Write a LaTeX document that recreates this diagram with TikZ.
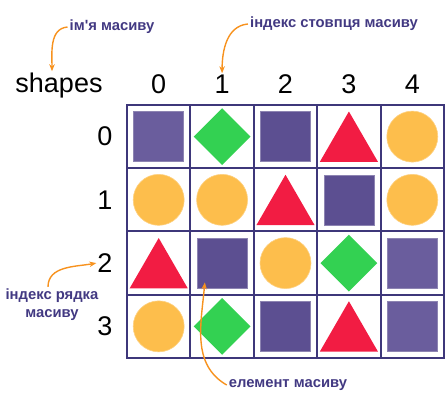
\documentclass[tikz,border=0pt]{standalone}
\usepackage{fontspec}
\setmainfont{Liberation Sans}
\newfontfamily\lblfont{Liberation Sans}[Ligatures=TeXOff]
\usetikzlibrary{shapes.geometric,arrows.meta}
\definecolor{gridpurple}{RGB}{62,55,122}
\definecolor{txtpurple}{RGB}{66,57,130}
\definecolor{sqdark}{RGB}{92,79,145}
\definecolor{sqlight}{RGB}{106,93,157}
\definecolor{dgreen}{RGB}{51,209,82}
\definecolor{tred}{RGB}{242,28,67}
\definecolor{cyellow}{RGB}{253,190,76}
\definecolor{arroworange}{RGB}{247,146,30}
\tikzset{
  cell/.style={draw=gridpurple, line width=2pt, minimum width=63.4pt, minimum height=63.25pt, inner sep=0pt},
  sqbox/.style={fill=sqdark, draw=sqdark!70!white, line width=0.6pt, minimum size=50pt, inner sep=0pt},
  sqboxlight/.style={sqbox, fill=sqlight},
  diam/.style={diamond, fill=dgreen, minimum size=57pt, inner sep=0pt},
  tri/.style={regular polygon, regular polygon sides=3, fill=tred, minimum size=67pt, inner sep=0pt, yshift=-8.4pt},
  disc/.style={circle, fill=cyellow, draw=cyellow!70!white, line width=0.6pt, minimum size=51pt, inner sep=0pt},
  idx/.style={font=\fontsize{27}{30}\selectfont, inner sep=1pt},
  note/.style={font=\lblfont\bfseries\fontsize{14.8}{18}\selectfont, text=txtpurple, inner sep=2pt},
  pointer/.style={-{Stealth[length=7pt,width=5.5pt]}, draw=arroworange, line width=1.4pt},
}
\begin{document}
\begin{tikzpicture}[x=1pt, y=1pt]
    \useasboundingbox (0,0) rectangle (446,416);
    % the array cells
    \foreach \r in {0,...,3}
      \foreach \c in {0,...,4}
        \node[cell] (cell\r\c) at ({158.7+63.4*\c},{279.4-63.25*\r}) {};
    % row 0
    \node[sqboxlight] (s00) at (cell00) {};
    \node[diam] (s01) at (cell01) {};
    \node[sqbox] (s02) at (cell02) {};
    \node[tri] (s03) at (cell03) {};
    \node[disc] (s04) at (cell04) {};
    % row 1
    \node[disc] (s10) at (cell10) {};
    \node[disc] (s11) at (cell11) {};
    \node[tri] (s12) at (cell12) {};
    \node[sqbox] (s13) at (cell13) {};
    \node[disc] (s14) at (cell14) {};
    % row 2
    \node[tri] (s20) at (cell20) {};
    \node[sqbox] (s21) at (cell21) {};
    \node[disc] (s22) at (cell22) {};
    \node[diam] (s23) at (cell23) {};
    \node[sqboxlight] (s24) at (cell24) {};
    % row 3
    \node[disc] (s30) at (cell30) {};
    \node[diam] (s31) at (cell31) {};
    \node[sqbox] (s32) at (cell32) {};
    \node[tri] (s33) at (cell33) {};
    \node[sqboxlight] (s34) at (cell34) {};
    % indices
    \node[idx, anchor=base] (arrname) at (59,324) {shapes};
    \foreach \c in {0,...,4}
      \node[idx, anchor=base] (col\c) at ({158.7+63.4*\c},323) {\c};
    \foreach \r in {0,...,3}
      \node[idx] (row\r) at (105,{279.4-63.25*\r}) {\r};
    % notes
    \node[note] (nameNote) at (112,389) {ім'я масиву};
    \node[note] (colNote) at (334,392) {індекс стовпця масиву};
    \node[note, align=center] (rowNote) at (52,111) {індекс рядка\\масиву};
    \node[note] (elemNote) at (288,31) {елемент масиву};
    \draw[pointer] (nameNote.west) to[out=185,in=90] ([xshift=-7pt]arrname.north);
    \draw[pointer] (colNote.west) to[out=185,in=90] (col1.north);
    \draw[pointer] ([xshift=-4pt]rowNote.north) to[out=90,in=190] (row2.west);
    \draw[pointer] (elemNote.west) to[out=150,in=-95] ([xshift=8pt,yshift=6pt]s21.south west);
\end{tikzpicture}
\end{document}
